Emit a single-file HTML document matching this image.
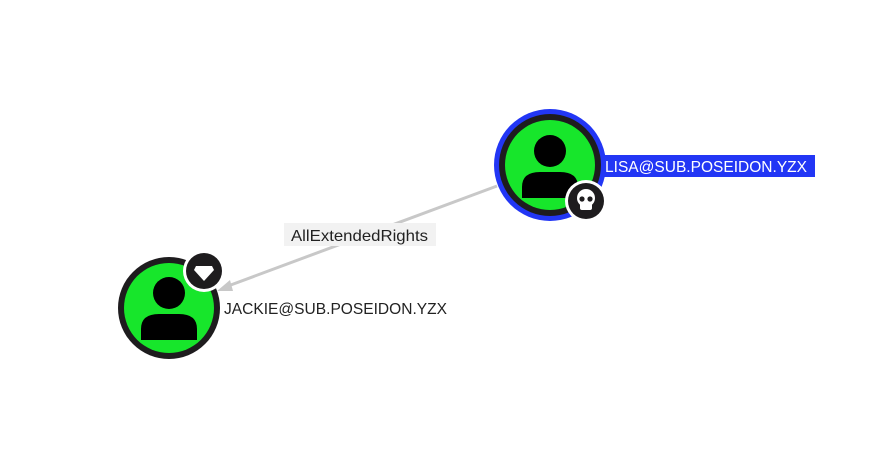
<!DOCTYPE html>
<html><head><style>
html,body{margin:0;padding:0;background:#fff;width:880px;height:469px;overflow:hidden}
text{font-family:"Liberation Sans",Arial,sans-serif}
</style></head><body>
<svg width="880" height="469" viewBox="0 0 880 469" xmlns="http://www.w3.org/2000/svg">
<line x1="497" y1="186" x2="228" y2="286" stroke="#c8c8c8" stroke-width="3"/>
<polygon points="217,291 230,280 233,291" fill="#c8c8c8"/>
<rect x="284" y="223" width="152" height="23" fill="#f2f2f2"/>
<text x="291" y="241" font-size="16" fill="#222" textLength="137" lengthAdjust="spacingAndGlyphs">AllExtendedRights</text>

<!-- Lisa -->
<circle cx="550" cy="165" r="56" fill="#2236f5"/>
<circle cx="550" cy="165" r="51" fill="#1e1c1e"/>
<circle cx="550" cy="165" r="45" fill="#17e62b"/>
<circle cx="550" cy="151" r="16" fill="#000"/>
<path d="M522,198 L522,187 Q522,172 540,172 L560,172 Q578,172 578,187 L578,198 Z" fill="#000"/>
<circle cx="586" cy="201" r="21" fill="#fff"/>
<circle cx="586" cy="201" r="18" fill="#1e1c1e"/>
<circle cx="586" cy="198" r="9" fill="#fff"/>
<rect x="580" y="202" width="12" height="8" rx="2" fill="#fff"/>
<circle cx="582" cy="199" r="2.6" fill="#1e1c1e"/>
<circle cx="590" cy="199" r="2.6" fill="#1e1c1e"/>
<rect x="603" y="155" width="212" height="22" fill="#2236f5"/>
<text x="605" y="172" font-size="16" fill="#fff" textLength="202" lengthAdjust="spacingAndGlyphs">LISA@SUB.POSEIDON.YZX</text>

<!-- Jackie -->
<circle cx="169" cy="308" r="51" fill="#1e1c1e"/>
<circle cx="169" cy="308" r="45" fill="#17e62b"/>
<circle cx="169" cy="293" r="16" fill="#000"/>
<path d="M141,340 L141,329 Q141,314 159,314 L179,314 Q197,314 197,329 L197,340 Z" fill="#000"/>
<circle cx="204" cy="271" r="21" fill="#fff"/>
<circle cx="204" cy="271" r="18" fill="#1e1c1e"/>
<polygon points="196,266 212,266 214,270 204,281 194,270" fill="#fff"/>
<text x="224" y="314" font-size="16" fill="#222" textLength="223" lengthAdjust="spacingAndGlyphs">JACKIE@SUB.POSEIDON.YZX</text>
</svg>
</body></html>
